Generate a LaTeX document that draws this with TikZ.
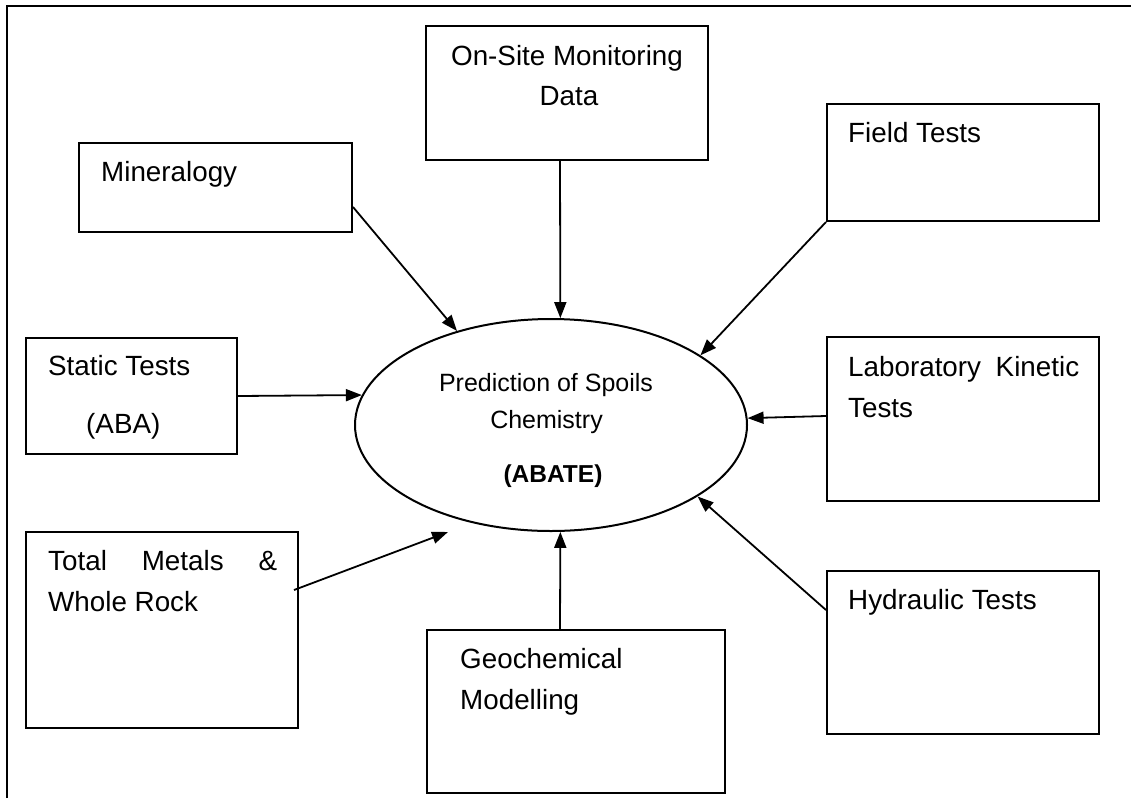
\documentclass[tikz,border=0pt]{standalone}
\usepackage{fontspec}
\setmainfont{Liberation Sans}
\usetikzlibrary{shapes.geometric,arrows.meta}
\begin{document}
\begin{tikzpicture}[x=1pt,y=-1pt,
  box/.style={draw, line width=2pt, rectangle, inner sep=0pt},
  lbl/.style={inner sep=0pt, anchor=base west, font=\fontsize{27.8}{33}\selectfont},
  clbl/.style={inner sep=0pt, anchor=base, font=\fontsize{25}{30}\selectfont},
  arr/.style={line width=1.8pt, -{Triangle[length=16pt,width=12pt]}}]
\useasboundingbox (0,0) rectangle (1131,798);
% outer frame
\draw[line width=2pt] (7,798) -- (7,6) -- (1131,6);
% boxes
\node[box, minimum width=282pt, minimum height=134pt] (ons) at (567,93) {};
\node[box, minimum width=273pt, minimum height=89pt] (min) at (215.5,187.5) {};
\node[box, minimum width=272pt, minimum height=117pt] (fie) at (963,162.5) {};
\node[box, minimum width=211pt, minimum height=116pt] (sta) at (131.5,396) {};
\node[box, minimum width=272pt, minimum height=164pt] (lab) at (963,419) {};
\node[box, minimum width=272pt, minimum height=196pt] (tot) at (162,630) {};
\node[box, minimum width=298pt, minimum height=163pt] (geo) at (576,711.5) {};
\node[box, minimum width=272pt, minimum height=163pt] (hyd) at (963,652.5) {};
\node[draw, ellipse, line width=2pt, minimum width=392pt, minimum height=212pt, inner sep=0pt] (ell) at (551,425) {};
% texts
\node[lbl, anchor=base] (onsA) at (567,65) {On-Site Monitoring};
\node[lbl, anchor=base] (onsB) at (569,105) {Data};
\node[lbl] (minA) at (101,181) {Mineralogy};
\node[lbl] (fieA) at (848,142) {Field Tests};
\node[lbl] (staA) at (48,375) {Static Tests};
\node[lbl] (staB) at (86,433) {(ABA)};
\node[lbl] (labA) at (848,376) {\hbox to 231pt{Laboratory\hfill Kinetic}};
\node[lbl] (labB) at (848,417) {Tests};
\node[lbl] (totA) at (48,570) {\hbox to 229pt{Total\hfill Metals\hfill\&}};
\node[lbl] (totB) at (48,611) {Whole Rock};
\node[lbl] (geoA) at (460,668) {Geochemical};
\node[lbl] (geoB) at (460,709) {Modelling};
\node[lbl] (hydA) at (848,609) {Hydraulic Tests};
\node[clbl] (ellA) at (546,391) {Prediction of Spoils};
\node[clbl] (ellB) at (546.5,428) {Chemistry};
\node[clbl, font=\fontsize{24.5}{30}\selectfont\bfseries] (ellC) at (553,482) {(ABATE)};
% connectors
\draw[arr] ([xshift=-7pt]ons.south) -- (ell.85.1);
\draw[arr] ([yshift=-19.5pt]min.east) -- (ell.135.9);
\draw[arr] (fie.south west) -- (ell.25.8);
\draw[arr] (sta.east) -- (ell.171.2);
\draw[arr] ([yshift=3pt]lab.west) -- (ell.2.6);
\coordinate (totEnd) at (448,532);
\draw[arr] ([xshift=-5pt,yshift=40pt]tot.east) -- (totEnd);
\draw[arr] ([xshift=-16pt]geo.north) -- (ell.-85.1);
\draw[arr] ([yshift=42.5pt]hyd.west) -- (ell.-26.4);
\end{tikzpicture}
\end{document}
